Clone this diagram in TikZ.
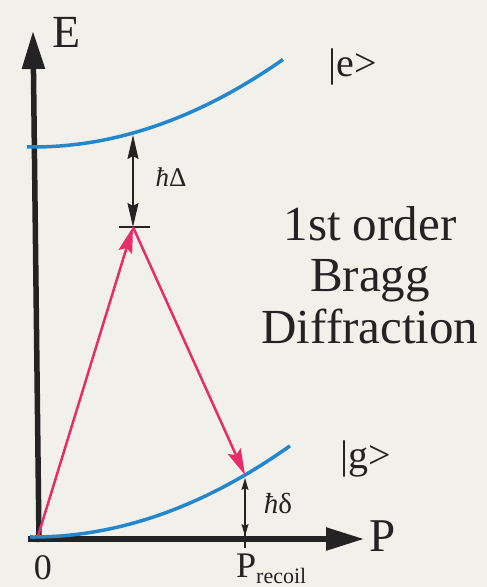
\documentclass[tikz,border=0pt]{standalone}
\usepackage{fontspec}
\setmainfont{Liberation Serif}
\usetikzlibrary{arrows.meta}
\definecolor{bg}{RGB}{242,240,235}
\definecolor{curvecol}{RGB}{35,135,205}
\definecolor{beamcol}{RGB}{230,45,105}
\definecolor{ink}{RGB}{35,35,35}
\begin{document}
\begin{tikzpicture}[x=1pt,y=-1pt,
  axis/.style={ink, line width=5.5pt, -{Triangle[length=38pt,width=22pt]}},
  level/.style={curvecol, line width=3.5pt},
  beamarrow/.style={beamcol, line width=2.5pt, -{Stealth[length=26pt,width=14pt,inset=4pt]}},
  gapbig/.style={ink, line width=1.4pt, {Stealth[length=24pt,width=11pt,inset=3pt]}-{Stealth[length=24pt,width=11pt,inset=3pt]}},
  gapsmall/.style={ink, line width=1.2pt, {Stealth[length=12pt,width=7pt,inset=2pt]}-{Stealth[length=12pt,width=7pt,inset=2pt]}},
  lbl/.style={ink, inner sep=0pt}]
\fill[bg] (0,0) rectangle (487,587);
\useasboundingbox (0,0) rectangle (487,587);
% axes
\coordinate (ybot) at (39,542);
\coordinate (ytop) at (33,31);
\coordinate (xleft) at (28,539);
\coordinate (xtip) at (364,539);
\draw[axis] (ybot) -- (ytop);
\draw[axis] (xleft) -- (xtip);
% energy curves
\draw[level] plot[domain=27:283, samples=60] (\x, {147-0.14*((\x-33)/10)^2});
\draw[level] plot[domain=30:290, samples=60] (\x, {537-0.138*((\x-33)/10)^2});
% key points
\coordinate (O) at (38,536);
\coordinate (V) at (133,227);
\coordinate (eTop) at (133,135);
\coordinate (gP) at (245,475);
\coordinate (gTop) at (245,478);
\coordinate (xP) at (245,536);
\coordinate (barL) at (119,227);
\coordinate (barR) at (150,227);
\coordinate (tickT) at (245,533);
\coordinate (tickB) at (245,548);
% detuning bar and arrows
\draw[ink, line width=2pt] (barL) -- (barR);
\draw[gapbig] (V) -- (eTop);
\draw[gapsmall] (xP) -- (gTop);
\draw[ink, line width=2.5pt] (tickT) -- (tickB);
% Bragg beams
\draw[beamarrow] (O) -- (V);
\draw[beamarrow] (V) -- (gP);
% labels
\node[lbl, font=\fontsize{46}{46}\selectfont] (Elab) at (67,32) {E};
\node[lbl, font=\fontsize{47}{47}\selectfont] (Plab) at (383,536) {P};
\node[lbl, font=\fontsize{36}{36}\selectfont] (zero) at (43,568) {0};
\node[lbl, font=\fontsize{36}{36}\selectfont, anchor=base west] (Prec) at (236,577) {P\textsubscript{\fontsize{22}{22}\selectfont recoil}};
\node[lbl, font=\fontsize{40}{40}\selectfont] (elab) at (353,67) {|e>};
\node[lbl, font=\fontsize{40}{40}\selectfont] (glab) at (366,459) {|g>};
\node[lbl, font=\fontsize{27}{27}\selectfont] (Dlab) at (171,177) {\textit{ħ}Δ};
\node[lbl, font=\fontsize{29}{29}\selectfont] (dlab) at (278,504) {\textit{ħ}δ};
\node[lbl, font=\fontsize{49}{51.5}\selectfont, align=center, anchor=base] (title) at (370,343) {1st order\\Bragg\\Diffraction};
\end{tikzpicture}
\end{document}
